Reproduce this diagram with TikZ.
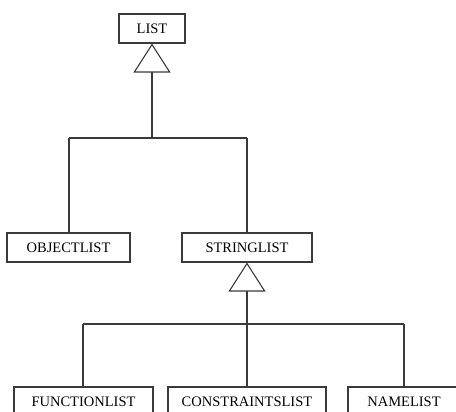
\documentclass[tikz,border=0pt]{standalone}
\usepackage{fontspec}
\setmainfont{Liberation Serif}
\usetikzlibrary{arrows.meta, positioning}
\definecolor{cline}{HTML}{3A3A3A}
\tikzset{
  every picture/.style={line width=1.1pt},
  cls/.style={draw=cline, fill=white, inner sep=0pt, minimum height=29pt, font=\fontsize{14.5}{17}\selectfont},
  inherit/.style={-{Triangle[open, length=29pt, width=37pt]}, draw=cline},
  wire/.style={draw=cline},
}

\begin{document}
\begin{tikzpicture}[x=1pt, y=-1pt]
  \useasboundingbox (0,0) rectangle (456,412);
  % top: base class
  \node[cls, minimum width=66pt] (list) at (152,28.5) {LIST};
  % middle row
  \node[cls, minimum width=123pt] (objectlist) at (68.5,247.5) {OBJECTLIST};
  \node[cls, minimum width=130pt] (stringlist) at (247,247.5) {STRINGLIST};
  % bottom row, cut off by the page edge
  \node[cls, minimum width=139pt] (functionlist) at (83.5,401.5) {FUNCTIONLIST};
  \node[cls, minimum width=158pt] (constraintslist) at (247,401.5) {CONSTRAINTSLIST};
  \node[cls, minimum width=112pt] (namelist) at (404,401.5) {NAMELIST};
  % branch points
  \coordinate (j1) at (152,138);
  \coordinate (o1) at (69,138);
  \coordinate (s1) at (247,138);
  \coordinate (j2) at (247,324);
  \coordinate (f1) at (83,324);
  \coordinate (n1) at (404,324);
  % generalisation to LIST
  \draw[inherit] (j1) -- (list.south);
  \draw[wire] (o1) -- (s1);
  \draw[wire] (o1) -- (o1 |- objectlist.north);
  \draw[wire] (s1) -- (stringlist.north);
  % generalisation to STRINGLIST
  \draw[inherit] (j2) -- (stringlist.south);
  \draw[wire] (f1) -- (n1);
  \draw[wire] (f1) -- (f1 |- functionlist.north);
  \draw[wire] (j2) -- (j2 |- constraintslist.north);
  \draw[wire] (n1) -- (namelist.north);
\end{tikzpicture}
\end{document}
